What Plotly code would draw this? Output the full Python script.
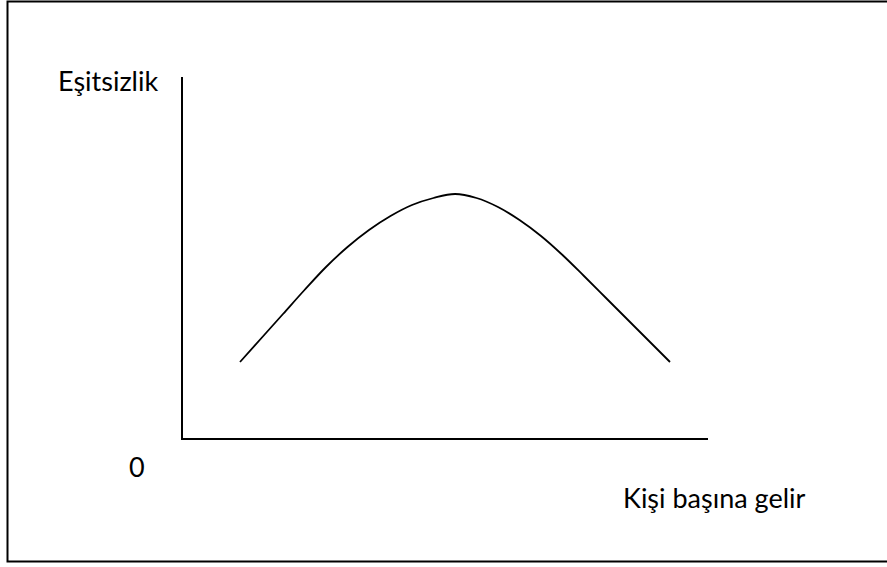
import plotly.graph_objects as go

# Kişi başına gelir (x) ve eşitsizlik (y) - ters U eğrisi
gelir = [57, 78.5, 100, 121.5, 143, 164.5, 186, 207.5, 229, 250.5, 272,
         293.5, 315, 336.5, 358, 379.5, 401, 422.5, 444, 465.5, 487]
esitsizlik = [76, 100, 124, 148, 171, 191, 208, 222, 233, 240, 244,
              240, 231, 218, 202, 183, 162, 140.5, 119, 97.5, 76]

W, H = 887, 567
L, R, T, B = 183, 179, 77, 129
pw, ph = W - L - R, H - T - B


def px(x):
    return (x - L) / pw


def py(y):
    return (H - B - y) / ph


fig = go.Figure()
fig.add_trace(go.Scatter(
    x=gelir, y=esitsizlik, mode="lines",
    line=dict(color="black", width=1.8, shape="spline", smoothing=1.0),
    hoverinfo="skip",
))

font = dict(family="Lato, Carlito, Calibri, sans-serif", size=27, color="black")
fig.add_annotation(text="Eşitsizlik", x=px(108), y=py(80), xref="paper", yref="paper",
                   showarrow=False, font=font, xanchor="center", yanchor="middle")
fig.add_annotation(text="0", x=px(137), y=py(466), xref="paper", yref="paper",
                   showarrow=False, font=font, xanchor="center", yanchor="middle")
fig.add_annotation(text="Kişi başına gelir", x=px(714), y=py(497), xref="paper", yref="paper",
                   showarrow=False, font=font, xanchor="center", yanchor="middle")

# dış çerçeve
fig.add_shape(type="rect", xref="paper", yref="paper",
              x0=px(7.5), x1=px(900), y0=py(561.5), y1=py(1.5),
              line=dict(color="black", width=2))

fig.update_layout(
    width=W, height=H,
    margin=dict(l=L, r=R, t=T, b=B),
    plot_bgcolor="white", paper_bgcolor="white",
    showlegend=False,
    xaxis=dict(range=[0, pw], showgrid=False, zeroline=False, showticklabels=False,
               ticks="", showline=True, linecolor="black", linewidth=2),
    yaxis=dict(range=[0, ph], showgrid=False, zeroline=False, showticklabels=False,
               ticks="", showline=True, linecolor="black", linewidth=2),
)

fig.write_html("out.html", config={"displayModeBar": False},
               post_script="document.body.style.margin='0';document.body.style.overflow='hidden';")
